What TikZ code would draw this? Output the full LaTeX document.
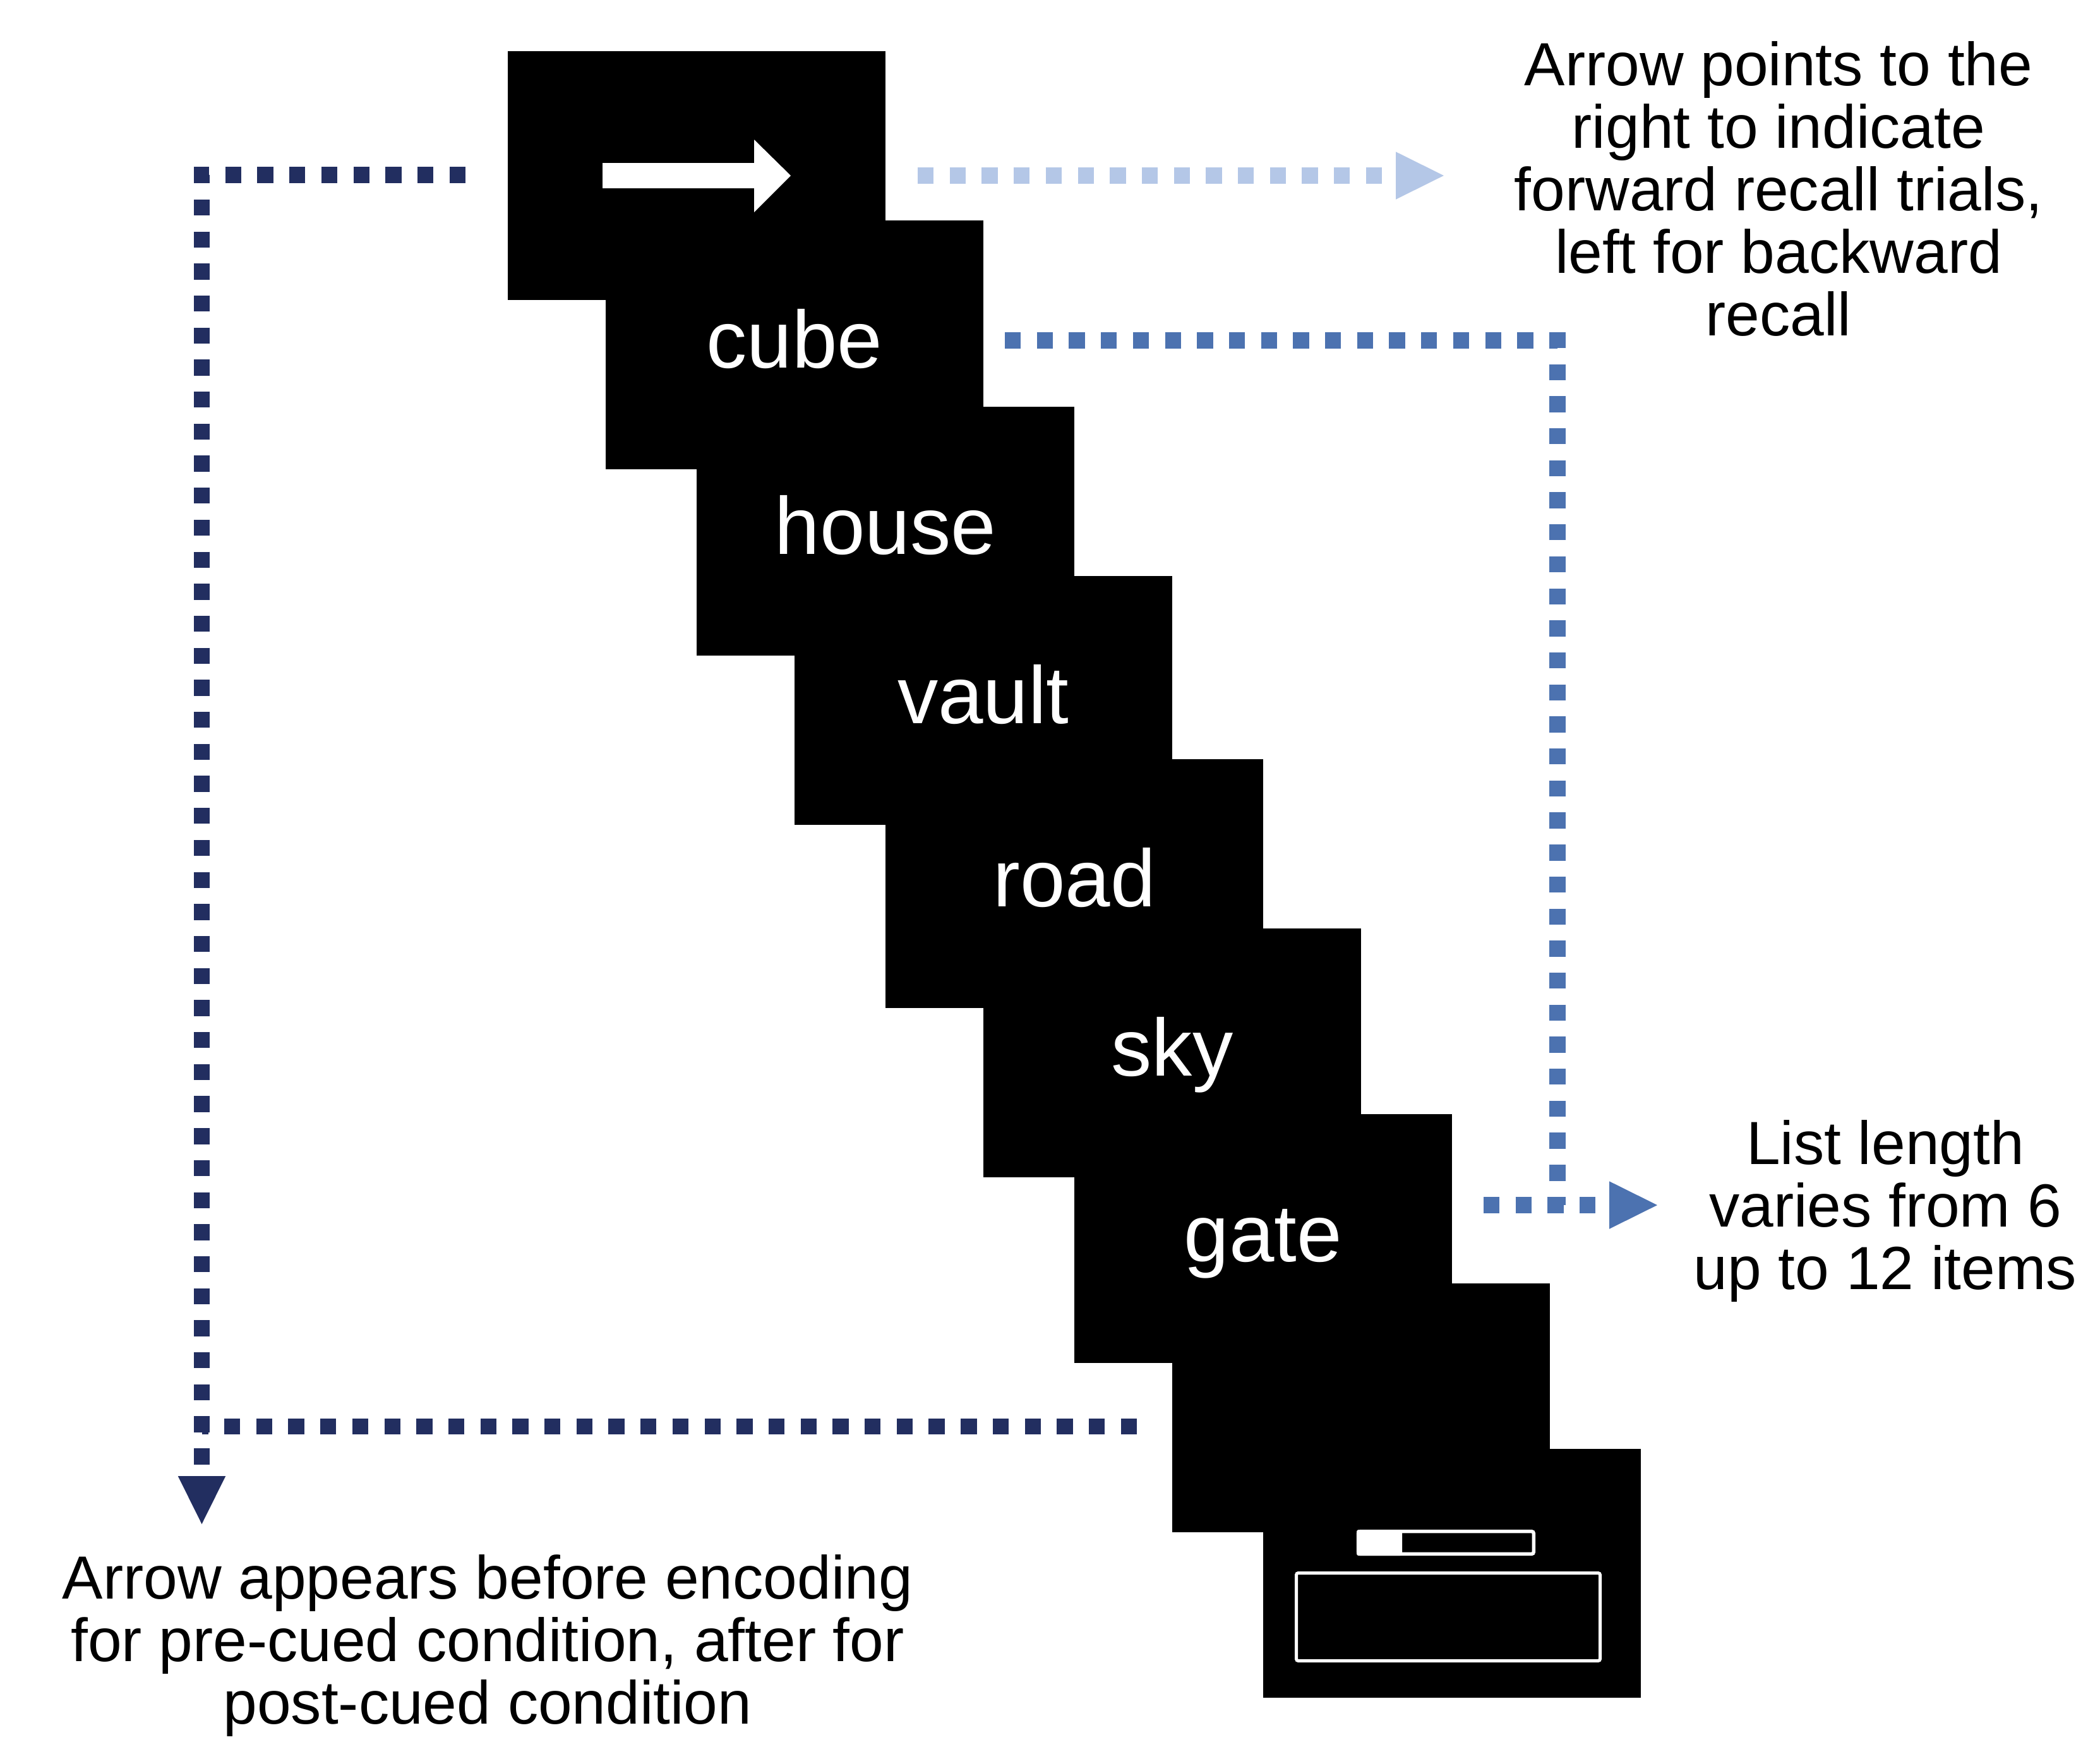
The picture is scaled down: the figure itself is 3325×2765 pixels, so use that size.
\documentclass[tikz,border=0pt]{standalone}
\usepackage{fontspec}
\setmainfont{Liberation Sans}
\usetikzlibrary{arrows.meta}
\definecolor{navy}{RGB}{34,46,96}
\definecolor{midblue}{RGB}{76,114,176}
\definecolor{lightblue}{RGB}{180,199,231}
\begin{document}
\begin{tikzpicture}[x=0.2pt,y=-0.2pt,
  stim/.style={fill=black, draw=none, minimum width=119.6pt, minimum height=78.8pt, inner sep=0pt, outer sep=0pt, anchor=north west},
  word/.style={text=white, font=\fontsize{25.7pt}{30pt}\selectfont, anchor=base, inner sep=0pt},
  note/.style={font=\fontsize{19.3pt}{19.8pt}\selectfont, align=center, anchor=base, inner sep=0pt},
  dotline/.style={line width=5.07pt, dash pattern=on 5.07pt off 5.07pt},
  tip/.style={-{Triangle[length=15.2pt,width=15.1pt,line width=0pt]}}
]
\useasboundingbox (0,0) rectangle (3325,2765);
% stimulus screens
\node[stim] (b1) at (804,81) {};
\node[stim] (b2) at (959,349) {};
\node[stim] (b3) at (1103,644) {};
\node[stim] (b4) at (1258,912) {};
\node[stim] (b5) at (1402,1202) {};
\node[stim] (b6) at (1557,1470) {};
\node[stim] (b7) at (1701,1764) {};
\node[stim] (b8) at (1856,2032) {};
\node[stim] (b9) at (2000,2294) {};
% cue arrow
\fill[white] (954,258) -- (1194,258) -- (1194,221) -- (1252,278) -- (1194,336) -- (1194,298) -- (954,298) -- cycle;
% words
\node[word] (w1) at (1258,582) {cube};
\node[word] (w2) at (1402,877) {house};
\node[word] (w3) at (1557,1145) {vault};
\node[word] (w4) at (1701,1435) {road};
\node[word] (w5) at (1856,1703) {sky};
\node[word] (w6) at (2000,1997) {gate};
% response screen
\draw[white, line width=1.1pt, rounded corners=0.6pt] (2150.7,2424.7) rectangle (2428.3,2460.3);
\fill[white, rounded corners=0.6pt] (2148,2422) rectangle (2220,2463);
\draw[white, line width=1pt, rounded corners=0.6pt] (2052.5,2490.5) rectangle (2533.5,2629.5);
% notes (anchor = baseline of last line)
\node[note] (n1) at (2816,531.3) {Arrow points to the\\right to indicate\\forward recall trials,\\left for backward\\recall};
\node[note] (n2) at (2985,2041) {List length\\varies from 6\\up to 12 items};
\node[note] (n3) at (772,2729.3) {Arrow appears before encoding\\for pre-cued condition, after for\\post-cued condition};
% connector coordinates
\coordinate (ls) at (1453,278);
\coordinate (le) at (2286,278);
\coordinate (ms) at (1591,539);
\coordinate (mc) at (2466,539);
\coordinate (mb) at (2466,1908);
\coordinate (hs) at (2349,1908);
\coordinate (he) at (2624,1908);
\coordinate (ds) at (737,277);
\coordinate (dc) at (319.5,277);
\coordinate (de) at (319.5,2413);
\coordinate (bs) at (1800,2258.5);
\coordinate (bc) at (319.5,2258.5);
% connectors
\draw[dotline, lightblue, tip] (ls) -- (le);
\draw[dotline, midblue] (ms) -- (mc) -- (mb);
\draw[dotline, midblue, tip] (hs) -- (he);
\draw[dotline, navy, tip] (ds) -- (dc) -- (de);
\draw[dotline, navy] (bs) -- (bc);
\end{tikzpicture}
\end{document}
